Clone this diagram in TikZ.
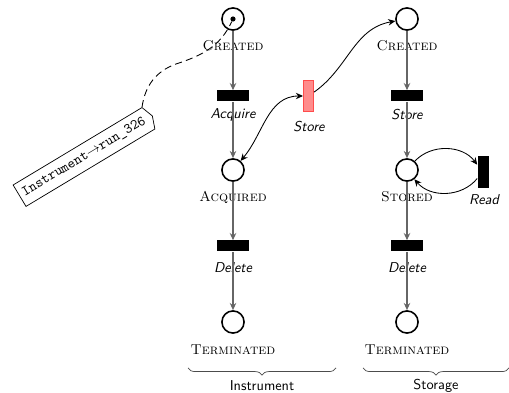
\documentclass[tikz,border=0pt]{standalone}
\usetikzlibrary{arrows.meta,shapes.symbols,decorations.pathreplacing}
\begin{document}
\begin{tikzpicture}[x=0.7pt,y=0.7pt,
  place/.style={circle,draw,line width=1.1pt,minimum size=15.5pt,inner sep=0pt},
  trans/.style={rectangle,fill=black,minimum width=22.4pt,minimum height=7.7pt,inner sep=0pt},
  vtrans/.style={rectangle,fill=black,minimum width=7.7pt,minimum height=22.4pt,inner sep=0pt},
  hotrans/.style={rectangle,fill=red!45,draw=red!70,line width=1pt,minimum width=6.7pt,minimum height=21.4pt,inner sep=0pt},
  ptext/.style={font=\scshape,inner sep=0pt},
  ttext/.style={font=\sffamily\itshape,inner sep=0pt},
  gtext/.style={font=\sffamily,inner sep=0pt},
  flow/.style={draw=black!60,line width=0.9pt,-{Stealth[length=5pt,width=4.5pt]}},
  link/.style={draw=black,line width=0.6pt,-{Stealth[length=5pt,width=4.5pt]}},
  group/.style={draw=black!70,line width=0.5pt,decorate,decoration={brace,mirror,amplitude=5pt}},
  tag/.style={draw,signal,signal to=east,signal pointer angle=140,font=\ttfamily,
    minimum height=17.5pt,inner xsep=3pt,line width=0.5pt}
]
\useasboundingbox (0,0) rectangle (509,393);

% Instrument net
\node[place] (icreated) at (233,374) {};
\node[circle,fill=black,inner sep=0pt,minimum size=3.6pt] (token) at (233,374) {};
\node[ptext] (icreated-l) at (233,347) {Created};
\node[trans] (iacquire) at (233,297) {};
\node[ttext] (iacquire-l) at (233,278) {Acquire};
\node[place] (iacquired) at (233,223) {};
\node[ptext] (iacquired-l) at (233,196) {Acquired};
\node[trans] (idelete) at (233,147) {};
\node[ttext] (idelete-l) at (233,125) {Delete};
\node[place] (iterm) at (233,71) {};
\node[ptext] (iterm-l) at (233,43) {Terminated};

% Storage net
\node[place] (screated) at (407,374) {};
\node[ptext] (screated-l) at (407,347) {Created};
\node[trans] (sstore) at (407,297) {};
\node[ttext] (sstore-l) at (407,278) {Store};
\node[place] (sstored) at (407,223) {};
\node[ptext] (sstored-l) at (407,196) {Stored};
\node[vtrans] (sread) at (483,221) {};
\node[ttext] (sread-l) at (484,193) {Read};
\node[trans] (sdelete) at (407,147) {};
\node[ttext] (sdelete-l) at (407,125) {Delete};
\node[place] (sterm) at (407,71) {};
\node[ptext] (sterm-l) at (407,43) {Terminated};

% synchronising transition
\node[hotrans] (hstore) at (308.5,297) {};
\node[ttext] (hstore-l) at (309,266) {Store};

% flow arcs
\draw[flow] (icreated) -- (iacquire);
\draw[flow] (iacquire) -- (iacquired);
\draw[flow] (iacquired) -- (idelete);
\draw[flow] (idelete) -- (iterm);
\draw[flow] (screated) -- (sstore);
\draw[flow] (sstore) -- (sstored);
\draw[flow] (sstored) -- (sdelete);
\draw[flow] (sdelete) -- (sterm);

\draw[link,{Stealth[length=5pt,width=4.5pt]}-{Stealth[length=5pt,width=4.5pt]}] (iacquired) to[out=50,in=180] (hstore);
\draw[link] (hstore) to[out=35,in=190] (screated);
\draw[link] (sstored) to[bend left=50] (sread);
\draw[link] (sread) to[bend left=50] (sstored);

% instance tag
\node[tag,rotate=31] (itag) at (84,236) {Instrument$\rightarrow$run\_326};
\coordinate (tagbend) at (176,329);
\draw[dash pattern=on 5pt off 3pt,line width=0.6pt] (itag.north east) to[out=82,in=200] (tagbend) to[out=18,in=245] (token);

% groups
\coordinate (ib-a) at (188,25);
\coordinate (ib-b) at (336,25);
\coordinate (sb-a) at (363,25);
\coordinate (sb-b) at (509,25);
\draw[group] (ib-a) -- (ib-b);
\draw[group] (sb-a) -- (sb-b);
\node[gtext] (instr) at (262,7) {Instrument};
\node[gtext] (stor) at (436,7) {Storage};
\end{tikzpicture}
\end{document}
